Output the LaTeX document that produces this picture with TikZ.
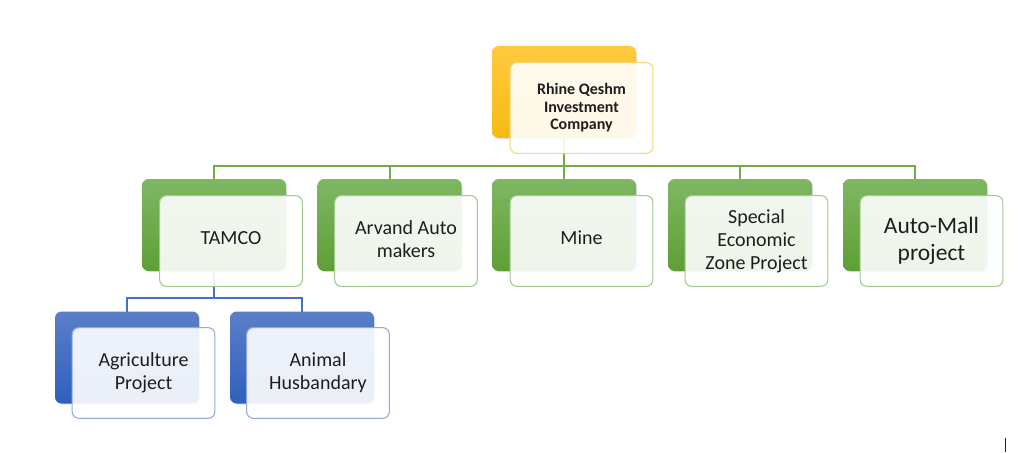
\documentclass[tikz,border=0pt]{standalone}
\usepackage{fontspec}
\setmainfont{Carlito}
\usetikzlibrary{calc,shadows}

\definecolor{goldtop}{HTML}{FFC93F}
\definecolor{goldbot}{HTML}{F6BB12}
\definecolor{goldline}{HTML}{F7D774}
\definecolor{greentop}{HTML}{7FB762}
\definecolor{greenbot}{HTML}{5E9F35}
\definecolor{greenline}{HTML}{70AD47}
\definecolor{greenedge}{HTML}{A3C98D}
\definecolor{bluetop}{HTML}{5B7EC9}
\definecolor{bluebot}{HTML}{2F60BD}
\definecolor{blueline}{HTML}{4472C4}
\definecolor{blueedge}{HTML}{8FAADC}
\definecolor{inktext}{HTML}{1E1E1E}

\tikzset{
  backcard/.style={rectangle, rounded corners=5pt, minimum width=108pt, minimum height=69pt,
    inner sep=0pt, outer sep=0pt, drop shadow={shadow xshift=0.8pt, shadow yshift=-0.8pt, opacity=0.22}},
  backgold/.style={backcard, top color=goldtop, bottom color=goldbot},
  backgreen/.style={backcard, top color=greentop, bottom color=greenbot},
  backblue/.style={backcard, top color=bluetop, bottom color=bluebot},
  frontcard/.style={rectangle, rounded corners=5pt, minimum width=107pt, minimum height=68pt,
    inner sep=0pt, outer sep=0pt, align=center, line width=0.8pt, fill=white, fill opacity=0.9,
    text opacity=1, text=inktext, font=\fontsize{15}{17.2}\selectfont},
  frontgold/.style={frontcard, draw=goldline, font=\fontsize{12}{13.2}\selectfont\bfseries},
  frontgreen/.style={frontcard, draw=greenedge},
  frontblue/.style={frontcard, draw=blueedge},
  greenlink/.style={draw=greenline, line width=1.5pt},
  bluelink/.style={draw=blueline, line width=1.5pt}
}

\begin{document}
\begin{tikzpicture}[x=0.75pt, y=-0.75pt]

% Fix the page to the proportions of the diagram
\useasboundingbox (0,0) rectangle (1024,453);

% Back cards
\node[backgold] (rootback) at (564,92) {};
\node[backgreen] (tamcoback) at (214,225) {};
\node[backgreen] (arvandback) at (389.5,225) {};
\node[backgreen] (mineback) at (564,225) {};
\node[backgreen] (zoneback) at (740,225) {};
\node[backgreen] (mallback) at (915,225) {};
\node[backblue] (farmback) at (127,357.5) {};
\node[backblue] (animalback) at (302,357.5) {};

% Levels of the two buses
\coordinate (topbus) at (0,166);
\coordinate (lowbus) at (0,298);

% Connectors
\foreach \card in {tamcoback,arvandback,mineback,zoneback,mallback}
  \draw[greenlink] (rootback.south) -- (rootback.south |- topbus) -| (\card.north);
\foreach \card in {farmback,animalback}
  \draw[bluelink] (tamcoback.south) -- (tamcoback.south |- lowbus) -| (\card.north);

% Front cards
\node[frontgold] (root) at (581.5,108) {Rhine Qeshm\\Investment\\Company};
\node[frontgreen, text depth=4.5pt] (tamco) at (231,241) {TAMCO};
\node[frontgreen, text depth=3pt] (arvand) at (406,241) {Arvand Auto\\makers};
\node[frontgreen, text depth=4.5pt] (mine) at (581.5,241) {Mine};
\node[frontgreen] (zone) at (756.5,241) {Special\\Economic\\Zone Project};
\node[frontgreen, font=\fontsize{17.6}{20}\selectfont] (mall) at (931.5,241) {Auto-Mall\\project};
\node[frontblue] (farm) at (143.5,373) {Agriculture\\Project};
\node[frontblue] (animal) at (318,373) {Animal\\Husbandary};

% Cursor mark in the corner
\draw[draw=inktext, line width=0.6pt] (1005,438) -- (1005,452);

\end{tikzpicture}
\end{document}
